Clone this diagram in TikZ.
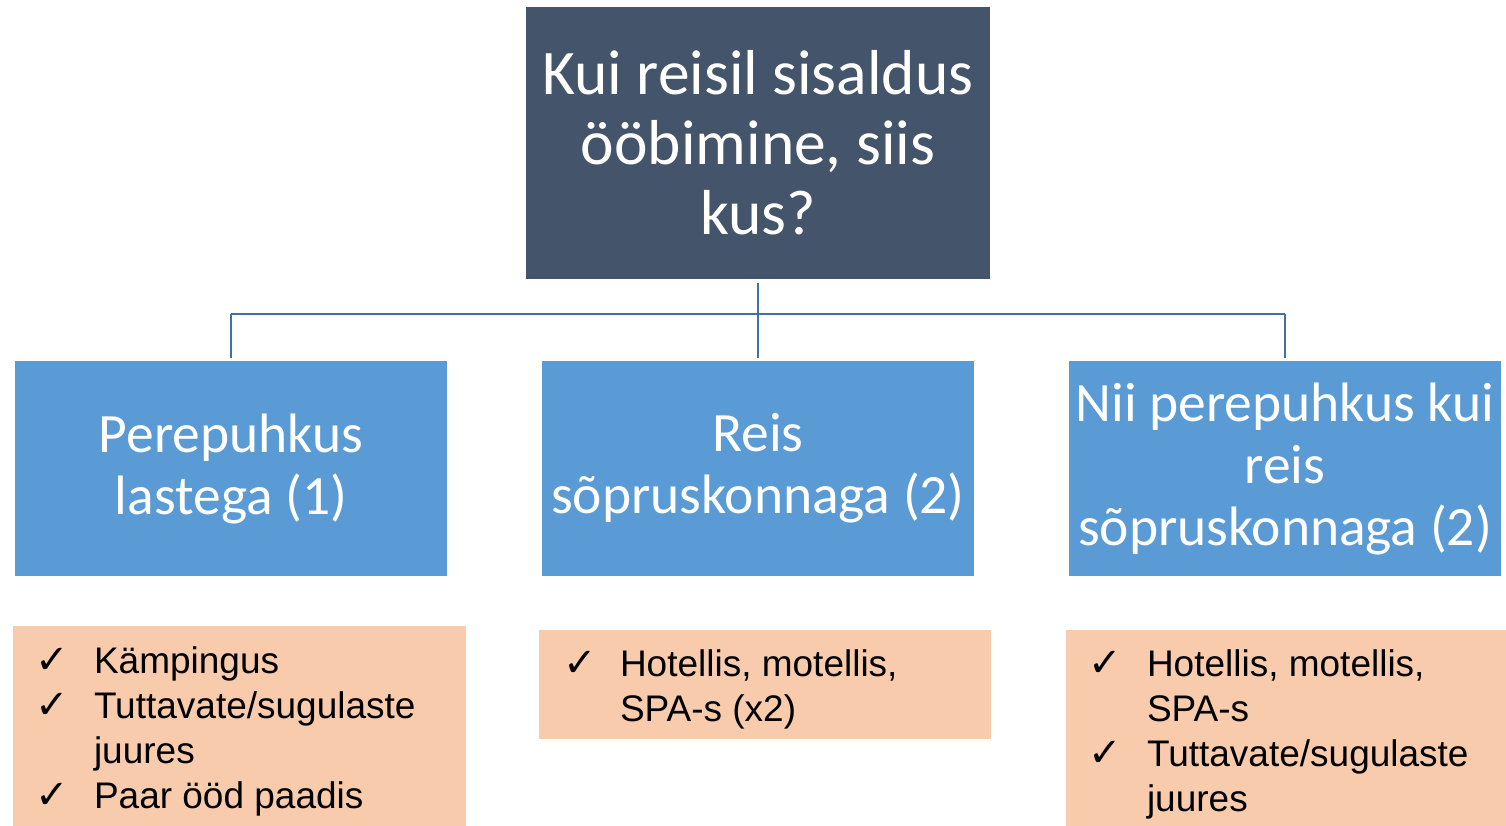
\documentclass[tikz,border=0pt]{standalone}
\usepackage{fontspec}
\setmainfont{Carlito}
\newfontfamily\arialfont{Liberation Sans}
\newfontfamily\symfont{DejaVu Sans}
\definecolor{topfill}{HTML}{44546A}
\definecolor{bluefill}{HTML}{5B9BD5}
\definecolor{linecol}{HTML}{41719C}
\definecolor{orfill}{HTML}{F8CBAD}
\newcommand{\chk}{{\symfont\fontsize{40}{45}\selectfont ✓}}
\begin{document}
\begin{tikzpicture}[x=1pt,y=-1pt,
 topbox/.style={fill=topfill, text=white, minimum width=464pt, minimum height=272pt, inner sep=0pt, align=center, font=\fontsize{63.5}{70}\selectfont},
 bluebox/.style={fill=bluefill, text=white, minimum width=432pt, minimum height=215pt, inner sep=0pt, align=center, font=\fontsize{55.5}{62}\selectfont},
 orbox/.style={fill=orfill, inner sep=0pt},
 listtext/.style={anchor=base west, inner sep=0pt, font=\arialfont\fontsize{37}{45}\selectfont},
 conn/.style={draw=linecol, line width=2pt}]
\useasboundingbox (0,0) rectangle (1506,826);
\fill[white] (0,0) rectangle (1506,826);

\node[topbox] (top) at (758,143) {Kui reisil sisaldus\\ööbimine, siis\\kus?};

\node[bluebox] (b1) at (231,468.5) {Perepuhkus\\lastega (1)};
\node[bluebox] (b2) at (758,468.5) {Reis\\sõpruskonnaga (2)};
\node[bluebox] (b3) at (1285,468.5) {Nii perepuhkus kui\\reis\\sõpruskonnaga (2)};

\coordinate (bus) at (0,314);
\draw[conn] (b1.north |- bus) -- (b3.north |- bus);
\draw[conn, shorten <=4pt, shorten >=3pt] (top.south) -- (b2.north);
\draw[conn, shorten >=3pt] (b1.north |- bus) -- (b1.north);
\draw[conn, shorten >=3pt] (b3.north |- bus) -- (b3.north);

\node[orbox, minimum width=453pt, minimum height=200pt] (o1) at (239.5,726) {};
\node[orbox, minimum width=452pt, minimum height=109pt] (o2) at (765,684.5) {};
\node[orbox, minimum width=440pt, minimum height=196pt] (o3) at (1286,728) {};

\node[listtext] (t1) at ([shift={(22,48)}]o1.north west)
 {\begin{tabular}[t]{@{}p{59pt}@{}l@{}}
 \chk & Kämpingus\\
 \chk & Tuttavate/sugulaste\\
      & juures\\
 \chk & Paar ööd paadis
 \end{tabular}};
\node[listtext] (t2) at ([shift={(24,47)}]o2.north west)
 {\begin{tabular}[t]{@{}p{57pt}@{}l@{}}
 \chk & Hotellis, motellis,\\
      & SPA-s (x2)
 \end{tabular}};
\node[listtext] (t3) at ([shift={(22,47)}]o3.north west)
 {\begin{tabular}[t]{@{}p{59pt}@{}l@{}}
 \chk & Hotellis, motellis,\\
      & SPA-s\\
 \chk & Tuttavate/sugulaste\\
      & juures
 \end{tabular}};
\end{tikzpicture}
\end{document}
